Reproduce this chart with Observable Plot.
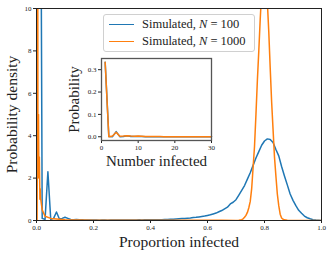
<!DOCTYPE html>
<html><head><meta charset="utf-8">
<script src="https://cdn.jsdelivr.net/npm/d3@7"></script>
<script src="https://cdn.jsdelivr.net/npm/@observablehq/plot@0.6"></script>
<style>
body{margin:0;background:#fff;}
#wrap{position:relative;width:332px;height:256px;font-family:"Liberation Serif",serif;overflow:hidden;}
#wrap svg{position:absolute;left:0;top:0;}
#legend{position:absolute;left:103px;top:14px;width:150px;height:36px;border:1px solid #d0d0d0;border-radius:3px;background:rgba(255,255,255,0.85);font-family:"Liberation Serif",serif;font-size:12.5px;color:#222;}
.row{position:absolute;left:0;height:16px;width:100%;}
.sw{position:absolute;left:5px;top:8px;width:25px;height:0;border-top:1.6px solid;}
.lab{position:absolute;left:38px;top:0;line-height:16px;white-space:nowrap;font-family:"Liberation Serif",serif;}
</style></head><body><div id="wrap"><div id="legend"></div></div>
<script>
// Main chart: N = 100 histogram density at proportion 0.01 .. 1.00
const blueX = [0.01,0.02,0.03,0.04,0.05,0.06,0.07,0.08,0.09,0.10,
 0.11,0.12,0.13,0.14,0.15,0.16,0.17,0.18,0.19,0.20,
 0.21,0.22,0.23,0.24,0.25,0.26,0.27,0.28,0.29,0.30,
 0.31,0.32,0.33,0.34,0.35,0.36,0.37,0.38,0.39,0.40,
 0.41,0.42,0.43,0.44,0.45,0.46,0.47,0.48,0.49,0.50,
 0.51,0.52,0.53,0.54,0.55,0.56,0.57,0.58,0.59,0.60,
 0.61,0.62,0.63,0.64,0.65,0.66,0.67,0.68,0.69,0.70,
 0.71,0.72,0.73,0.74,0.75,0.76,0.77,0.78,0.79,0.80,
 0.81,0.82,0.83,0.84,0.85,0.86,0.87,0.88,0.89,0.90,
 0.91,0.92,0.93,0.94,0.95,0.96,0.97,0.98,0.99,1.00];
const blueY = [33.3,0.1,0.05,2.3,0.05,0.1,0.4,0.08,0.1,0.15,
 0.1,0.05,0.04,0.05,0.03,0.03,0.02,0.02,0.02,0.02,
 0.02,0.015,0.02,0.02,0.015,0.02,0.02,0.02,0.025,0.02,
 0.02,0.025,0.025,0.02,0.025,0.03,0.025,0.03,0.03,0.03,
 0.03,0.035,0.04,0.04,0.05,0.05,0.06,0.06,0.07,0.08,
 0.09,0.1,0.11,0.12,0.14,0.15,0.17,0.19,0.21,0.24,
 0.27,0.31,0.35,0.41,0.47,0.55,0.63,0.78,0.86,0.98,
 1.2,1.42,1.65,1.95,2.25,2.6,2.95,3.25,3.55,3.75,
 3.85,3.82,3.68,3.35,3.05,2.55,2.1,1.68,1.25,0.95,
 0.7,0.48,0.34,0.21,0.13,0.08,0.04,0.02,0.01,0.0];

// Main chart: N = 1000 density
const orangeX = [0.001,0.002,0.003,0.004,0.005,0.006,0.007,0.008,0.009,0.010,0.011,0.012,0.013,0.014,0.015,
 0.02,0.03,0.05,0.1,0.2,0.3,0.4,0.5,0.6,0.65,0.7,0.71,
 0.72,0.725,0.73,0.735,0.74,0.745,0.75,0.755,0.76,0.765,0.77,0.775,0.78,0.785,0.79,0.795,0.8,
 0.805,0.81,0.815,0.82,0.825,0.83,0.835,0.84,0.845,0.85,0.855,0.86,0.865,0.87,
 0.88,0.89,0.9,1.0];
const orangeY = [333,0,3,20,2,3,5,3,2,3,2,1,1.5,1,1,
 0.5,0.2,0.1,0.03,0.01,0.01,0.01,0.01,0.01,0.01,0.005,0.01,
 0.04,0.08,0.15,0.24,0.38,0.6,0.9,1.5,2.5,3.5,5.0,6.6,8.0,9.5,10.8,11.8,12.1,
 11.6,10.3,8.9,7.2,5.6,4.3,3.0,2.1,1.25,0.7,0.3,0.12,0.06,0.03,
 0.01,0,0,0];

// Inset: probability by number infected
const counts = [1,2,3,4,5,6,7,8,9,10,11,12,13,14,15,16,17,18,19,20,21,22,23,24,25,26,27,28,29,30];
const prob100 = [0.333,0.001,0.0005,0.023,0.0005,0.001,0.004,0.0008,0.001,0.0015,0.001,0.0005,0.0004,0.0005,0.0003,
 0.0003,0.0002,0.0002,0.0002,0.0002,0.0002,0.00015,0.0002,0.0002,0.00015,0.0002,0.0002,0.0002,0.00025,0.0002];
const prob1000 = [0.333,0.0,0.003,0.02,0.002,0.003,0.005,0.003,0.002,0.003,0.002,0.001,0.0015,0.001,0.001,
 0.0008,0.0006,0.0005,0.0005,0.0004,0.0004,0.0003,0.0003,0.0003,0.0003,0.0002,0.0002,0.0002,0.0002,0.0002];

const xTicks = [0,0.2,0.4,0.6,0.8,1.0];
const yTicks = [0,2,4,6,8,10];
const insetXTicks = [0,10,20,30];
const insetYTicks = [0,0.1,0.2,0.3];
const seriesNames = ["Simulated, <i>N</i> = 100","Simulated, <i>N</i> = 1000"];
const colors = ["#1f77b4","#ff7f0e"];

const blueData = blueX.map((x,i)=>({x,y:blueY[i]}));
const orangeData = orangeX.map((x,i)=>({x,y:orangeY[i]}));
const inBlue = counts.map((k,i)=>({k,p:prob100[i]}));
const inOrange = counts.map((k,i)=>({k,p:prob1000[i]}));

const font = "Liberation Serif, serif";
const W=332,H=256;

const main = Plot.plot({
  width:W,height:H,marginLeft:36,marginRight:11,marginTop:8,marginBottom:36,
  style:{fontFamily:font,fontSize:"7px",background:"transparent",color:"#222"},
  x:{domain:[0,1]},
  y:{domain:[0,10]},
  marks:[
    Plot.line(blueData,{x:"x",y:"y",stroke:colors[0],strokeWidth:1.5,clip:true}),
    Plot.line(orangeData,{x:"x",y:"y",stroke:colors[1],strokeWidth:1.5,clip:true}),
    Plot.axisX({ticks:xTicks,tickFormat:d3.format(".1f"),tickSize:3,tickPadding:2,label:null}),
    Plot.axisY({ticks:yTicks,tickFormat:d3.format("d"),tickSize:3,tickPadding:2,label:null}),
    Plot.frame({stroke:"#222",strokeWidth:1}),
    Plot.text(["Proportion infected"],{text:d=>d,frameAnchor:"bottom",textAnchor:"middle",lineAnchor:"middle",dy:22,fontSize:15.5,fill:"#222"}),
    Plot.text(["Probability density"],{text:d=>d,frameAnchor:"left",textAnchor:"middle",lineAnchor:"middle",dx:-24,rotate:-90,fontSize:15.5,fill:"#222"})
  ]
});

const inset = Plot.plot({
  width:W,height:H,marginLeft:101,marginRight:121,marginTop:58,marginBottom:116,
  style:{fontFamily:font,fontSize:"7px",background:"transparent",color:"#222"},
  x:{domain:[0,30]},
  y:{domain:[-0.0167,0.35]},
  marks:[
    Plot.frame({fill:"white",stroke:"none"}),
    Plot.line(inBlue,{x:"k",y:"p",stroke:colors[0],strokeWidth:1.5}),
    Plot.line(inOrange,{x:"k",y:"p",stroke:colors[1],strokeWidth:1.5}),
    Plot.axisX({ticks:insetXTicks,tickFormat:d3.format("d"),tickSize:3,tickPadding:2,label:null}),
    Plot.axisY({ticks:insetYTicks,tickFormat:d3.format(".1f"),tickSize:3,tickPadding:2,label:null}),
    Plot.frame({stroke:"#555",strokeWidth:1.3}),
    Plot.text(["Number infected"],{text:d=>d,frameAnchor:"bottom",textAnchor:"middle",lineAnchor:"middle",dy:21,fontSize:15,fill:"#222"}),
    Plot.text(["Probability"],{text:d=>d,frameAnchor:"left",textAnchor:"middle",lineAnchor:"middle",dx:-27,rotate:-90,fontSize:15,fill:"#222"})
  ]
});

const wrap = document.getElementById("wrap");
const legend = document.getElementById("legend");
wrap.insertBefore(main, legend);
wrap.insertBefore(inset, legend);
seriesNames.forEach((name,i)=>{
  const r = document.createElement("div");
  r.className="row"; r.style.top=(1+i*17)+"px";
  r.innerHTML = `<div class="sw" style="border-color:${colors[i]}"></div><div class="lab">${name}</div>`;
  legend.appendChild(r);
});
</script></body></html>
